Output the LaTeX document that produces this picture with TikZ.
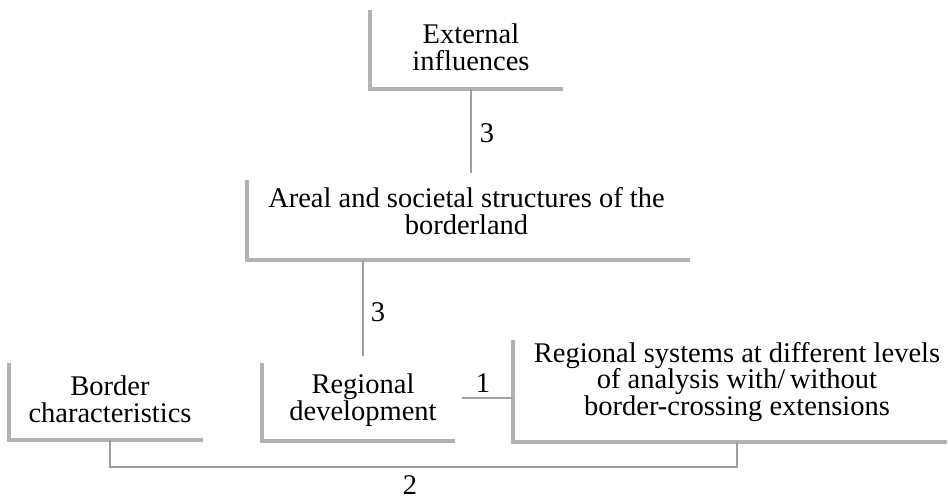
\documentclass[tikz,border=0pt]{standalone}
\usepackage{fontspec}
\setmainfont{Liberation Serif}
\begin{document}
\begin{tikzpicture}[x=1pt,y=-1pt,
  boxedge/.style={draw=gray!60, line width=4pt},
  conn/.style={draw=gray!75, line width=1.5pt},
  box/.style={draw=none, inner sep=0pt, outer sep=0pt},
  txt/.style={align=center, inner sep=0pt, font=\fontsize{28.5}{26.8}\selectfont},
  lbl/.style={inner sep=0pt, font=\fontsize{28.5}{26.8}\selectfont}]
\useasboundingbox (0,0) rectangle (948,499);

% boxes
\node[box, minimum width=193pt, minimum height=79pt] (ext) at (466.5,49.5) {};
\node[box, minimum width=443pt, minimum height=80pt] (areal) at (468.5,220) {};
\node[box, minimum width=194pt, minimum height=77pt] (border) at (106,401.5) {};
\node[box, minimum width=193pt, minimum height=78pt] (regdev) at (358.5,402) {};
\node[box, minimum width=434pt, minimum height=102pt] (regsys) at (730,391) {};

\foreach \b in {ext,areal,border,regdev,regsys}
  \draw[boxedge] (\b.north west) |- (\b.south east);

% texts
\node[txt] (exttxt) at (471,47) {External\\influences};
\node[txt] (arealtxt) at (466.5,211) {Areal and societal structures of the\\borderland};
\node[txt] (bordertxt) at (110,399) {Border\\characteristics};
\node[txt] (regdevtxt) at (363,400.5) {Regional\\development};
\node[txt] (regsystxt) at (737,382) {Regional systems at different levels\\of analysis with/\,without\\border-crossing extensions};

% connectors
\draw[conn, shorten >=7pt] (ext.south -| exttxt) -- (exttxt |- areal.north);
\draw[conn, shorten >=7pt] (areal.south -| regdevtxt) -- (regdevtxt |- regdev.north);
\draw[conn, shorten <=7pt] ([yshift=4pt]regdev.east) -- ([yshift=4pt]regdev.east -| regsys.west);
\coordinate (low) at (0,467);
\draw[conn] (bordertxt |- border.south) -- (bordertxt |- low) -| (regsys.south -| regsystxt);

% labels
\node[lbl] (l3a) at (487,133) {3};
\node[lbl] (l3b) at (378,312) {3};
\node[lbl] (l1) at (483,383) {1};
\node[lbl] (l2) at (410,485) {2};
\end{tikzpicture}
\end{document}
